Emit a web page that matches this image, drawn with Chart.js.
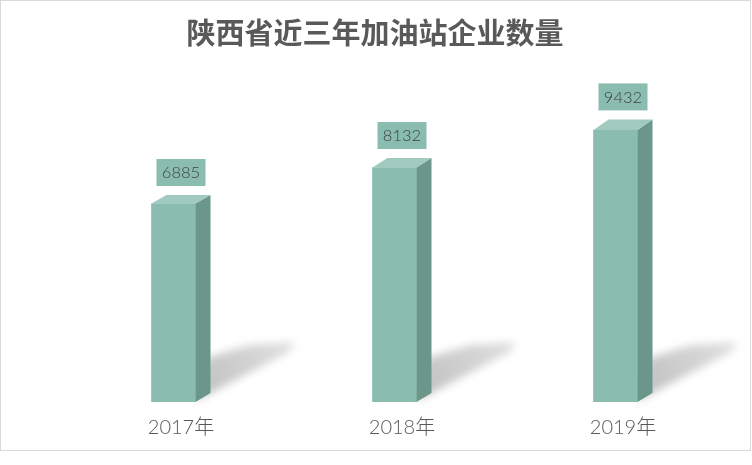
<!DOCTYPE html>
<html>
<head>
<meta charset="utf-8">
<script src="https://cdn.jsdelivr.net/npm/chart.js@4/dist/chart.umd.min.js"></script>
<style>
  html, body { margin: 0; padding: 0; background: #fff; }
  canvas { display: block; }
</style>
</head>
<body>
<canvas id="chart" width="752" height="465"></canvas>
<script>
  const title = '陕西省近三年加油站企业数量';
  const years = ['2017年', '2018年', '2019年'];
  const stationCounts = [6885, 8132, 9432];
  const yMax = 12000;

  const FONT = "'Noto Sans CJK SC', 'Noto Sans', sans-serif";
  const LIGHT = "Lato, 'Noto Sans CJK SC', sans-serif";
  const FRONT = '#8abdb0', SIDE = '#6b968a', TOP = '#a0c9bf';
  const DX = 15, DY_BASE = 9;

  // top face depth grows a little with bar height (perspective look)
  const topDepth = bar => 2.5 + (bar.base - bar.y) * 0.03;

  const bar3d = {
    id: 'bar3d',
    beforeDatasetsDraw(chart) {
      const ctx = chart.ctx;
      chart.getDatasetMeta(0).data.forEach(bar => {
        const R = bar.x + bar.width / 2 + DX, B = bar.base;
        const g = ctx.createLinearGradient(R - 10, B, R + 85, B - 58);
        g.addColorStop(0, 'rgba(0,0,0,0.25)');
        g.addColorStop(1, 'rgba(0,0,0,0.12)');
        ctx.save();
        ctx.filter = 'blur(4px)';
        ctx.fillStyle = g;
        ctx.beginPath();
        ctx.moveTo(R - 15, B - 1);
        ctx.lineTo(R - 4, B - 44);
        ctx.lineTo(R + 39, B - 57);
        ctx.lineTo(R + 84, B - 60);
        ctx.lineTo(R + 80, B - 51);
        ctx.closePath();
        ctx.fill();
        ctx.restore();
      });
    },
    afterDatasetsDraw(chart) {
      const ctx = chart.ctx;
      chart.getDatasetMeta(0).data.forEach((bar, i) => {
        const l = bar.x - bar.width / 2, r = bar.x + bar.width / 2;
        const dyT = topDepth(bar);
        ctx.save();
        ctx.fillStyle = SIDE;
        ctx.beginPath();
        ctx.moveTo(r, bar.y);
        ctx.lineTo(r + DX, bar.y - dyT);
        ctx.lineTo(r + DX, bar.base - DY_BASE);
        ctx.lineTo(r, bar.base);
        ctx.closePath();
        ctx.fill();

        ctx.fillStyle = TOP;
        ctx.beginPath();
        ctx.moveTo(l, bar.y);
        ctx.lineTo(l + DX, bar.y - dyT);
        ctx.lineTo(r + DX, bar.y - dyT);
        ctx.lineTo(r, bar.y);
        ctx.closePath();
        ctx.fill();

        // value label box
        const cx = bar.x + DX / 2, bottom = bar.y - dyT - 9;
        ctx.fillStyle = FRONT;
        ctx.fillRect(cx - 24.5, bottom - 27, 49, 27);
        ctx.fillStyle = '#404040';
        ctx.font = '300 16.5px ' + LIGHT;
        ctx.textAlign = 'center';
        ctx.textBaseline = 'middle';
        ctx.fillText(String(stationCounts[i]), cx, bottom - 13);
        ctx.restore();
      });
    },
    afterDraw(chart) {
      const ctx = chart.ctx;
      ctx.save();
      ctx.fillStyle = '#595959';
      ctx.font = 'bold 29px ' + FONT;
      ctx.textAlign = 'center';
      ctx.textBaseline = 'middle';
      ctx.fillText(title, 375, 33);
      ctx.strokeStyle = '#d9d9d9';
      ctx.lineWidth = 1;
      ctx.strokeRect(0.5, 0.5, 750, 450);
      ctx.restore();
    }
  };

  new Chart(document.getElementById('chart'), {
    type: 'bar',
    data: {
      labels: years,
      datasets: [{
        data: stationCounts,
        backgroundColor: FRONT,
        borderWidth: 0,
        barThickness: 44
      }]
    },
    options: {
      responsive: false,
      animation: false,
      layout: { padding: { left: 63, right: 26, top: 56, bottom: 0 } },
      plugins: {
        legend: { display: false },
        tooltip: { enabled: false },
        title: { display: false }
      },
      scales: {
        y: { display: false, min: 0, max: yMax },
        x: {
          grid: { display: false, drawTicks: false },
          border: { display: false },
          ticks: {
            color: '#595959',
            font: { family: LIGHT, size: 20, weight: 300 },
            padding: 14,
            labelOffset: DX / 2
          },
          afterFit: s => { s.height = 63; }
        }
      }
    },
    plugins: [bar3d]
  });
</script>
</body>
</html>
